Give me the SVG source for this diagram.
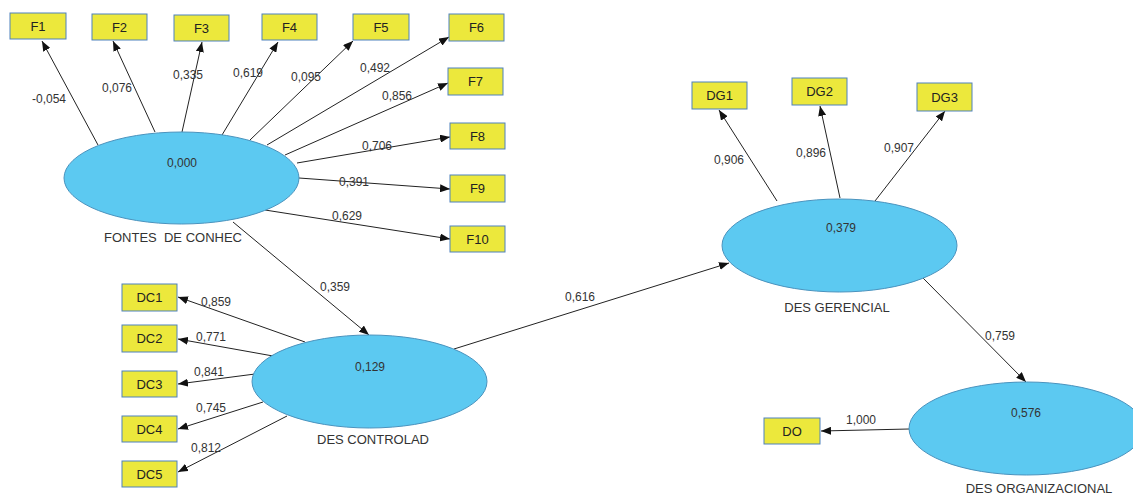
<svg xmlns="http://www.w3.org/2000/svg" width="1133" height="494" viewBox="0 0 1133 494">
<style>
.box{fill:#ECE83C;stroke:#4F81BD;stroke-width:1}
.lv{fill:#5CC9F1;stroke:#4A93BE;stroke-width:1}
.bt{font-family:"Liberation Sans",Arial,sans-serif;font-size:13px;fill:#222;text-anchor:middle;dominant-baseline:central}
.nt{font-family:"Liberation Sans",Arial,sans-serif;font-size:12px;fill:#333;text-anchor:middle;dominant-baseline:central}
.lt{font-family:"Liberation Sans",Arial,sans-serif;font-size:13px;fill:#333;text-anchor:middle;dominant-baseline:central}
.c{stroke:#222;stroke-width:1;fill:none;marker-end:url(#ah)}
</style>
<defs>
<marker id="ah" markerUnits="userSpaceOnUse" markerWidth="10" markerHeight="8" refX="10" refY="4" orient="auto">
<path d="M0,0 L10,4 L0,8 z" fill="#111"/>
</marker>
</defs>
<rect width="1133" height="494" fill="#fff"/>
<g id="connectors">
<line class="c" x1="98" y1="145" x2="42" y2="41"/>
<line class="c" x1="155" y1="132" x2="113" y2="41"/>
<line class="c" x1="182" y1="132" x2="202" y2="42"/>
<line class="c" x1="222" y1="135" x2="278" y2="42"/>
<line class="c" x1="250" y1="140" x2="353" y2="41"/>
<line class="c" x1="267" y1="145" x2="449" y2="37"/>
<line class="c" x1="285" y1="155" x2="448" y2="83"/>
<line class="c" x1="297" y1="163" x2="450" y2="137"/>
<line class="c" x1="299" y1="178" x2="450" y2="189"/>
<line class="c" x1="265" y1="210" x2="450" y2="239"/>
<line class="c" x1="233" y1="222" x2="369" y2="335"/>
<line class="c" x1="305" y1="342" x2="178" y2="297"/>
<line class="c" x1="273" y1="356" x2="178" y2="339"/>
<line class="c" x1="255" y1="374" x2="178" y2="384"/>
<line class="c" x1="263" y1="402" x2="178" y2="429"/>
<line class="c" x1="287" y1="416" x2="178" y2="472"/>
<line class="c" x1="454" y1="349" x2="729" y2="263"/>
<line class="c" x1="777" y1="201" x2="719" y2="110"/>
<line class="c" x1="840" y1="198" x2="820" y2="106"/>
<line class="c" x1="875" y1="201" x2="945" y2="111"/>
<line class="c" x1="923" y1="278" x2="1026" y2="382"/>
<line class="c" x1="909" y1="429" x2="821" y2="431"/>
</g>
<g id="labels" class="nt">
<text class="nt" x="49" y="99">-0,054</text>
<text class="nt" x="117" y="88">0,076</text>
<text class="nt" x="188" y="75">0,335</text>
<text class="nt" x="248" y="73">0,619</text>
<text class="nt" x="306" y="77">0,095</text>
<text class="nt" x="375" y="68">0,492</text>
<text class="nt" x="397" y="96">0,856</text>
<text class="nt" x="377" y="146">0,706</text>
<text class="nt" x="354" y="182">0,391</text>
<text class="nt" x="347" y="216">0,629</text>
<text class="nt" x="335" y="287">0,359</text>
<text class="nt" x="216" y="302">0,859</text>
<text class="nt" x="211" y="337">0,771</text>
<text class="nt" x="209" y="372">0,841</text>
<text class="nt" x="211" y="408">0,745</text>
<text class="nt" x="206" y="448">0,812</text>
<text class="nt" x="580" y="297">0,616</text>
<text class="nt" x="729" y="160">0,906</text>
<text class="nt" x="811" y="153">0,896</text>
<text class="nt" x="899" y="148">0,907</text>
<text class="nt" x="1000" y="336">0,759</text>
<text class="nt" x="861" y="420">1,000</text>
</g>
<g id="FONTES">
<ellipse class="lv" cx="181.5" cy="178" rx="117.5" ry="46"/>
<text class="nt" x="182" y="163">0,000</text>
<text class="lt" x="173" y="237" xml:space="preserve">FONTES  DE CONHEC</text>
</g>
<g id="DESCONTROLAD">
<ellipse class="lv" cx="369.5" cy="381.5" rx="117.5" ry="46.5"/>
<text class="nt" x="370" y="367">0,129</text>
<text class="lt" x="373" y="439">DES CONTROLAD</text>
</g>
<g id="DESGERENCIAL">
<ellipse class="lv" cx="839.5" cy="245.5" rx="117.5" ry="46.5"/>
<text class="nt" x="841" y="228">0,379</text>
<text class="lt" x="837" y="307">DES GERENCIAL</text>
</g>
<g id="DESORGANIZACIONAL">
<ellipse class="lv" cx="1026.5" cy="428.5" rx="117.5" ry="46.5"/>
<text class="nt" x="1026" y="413">0,576</text>
<text class="lt" x="1039" y="488">DES ORGANIZACIONAL</text>
</g>
<g id="F1"><rect class="box" x="10" y="13" width="56" height="26"/><text class="bt" x="38" y="26">F1</text></g>
<g id="F2"><rect class="box" x="92" y="14" width="55" height="26"/><text class="bt" x="119.5" y="27">F2</text></g>
<g id="F3"><rect class="box" x="174" y="15" width="55" height="26"/><text class="bt" x="201.5" y="28">F3</text></g>
<g id="F4"><rect class="box" x="262" y="14" width="55" height="26"/><text class="bt" x="289.5" y="27">F4</text></g>
<g id="F5"><rect class="box" x="353" y="14" width="56" height="26"/><text class="bt" x="381" y="27">F5</text></g>
<g id="F6"><rect class="box" x="449" y="14" width="55" height="27"/><text class="bt" x="476.5" y="27.5">F6</text></g>
<g id="F7"><rect class="box" x="448" y="68" width="55" height="27"/><text class="bt" x="475.5" y="81.5">F7</text></g>
<g id="F8"><rect class="box" x="450" y="123" width="55" height="26"/><text class="bt" x="477.5" y="136">F8</text></g>
<g id="F9"><rect class="box" x="450" y="175" width="55" height="27"/><text class="bt" x="477.5" y="188.5">F9</text></g>
<g id="F10"><rect class="box" x="450" y="226" width="55" height="26"/><text class="bt" x="477.5" y="239">F10</text></g>
<g id="DC1"><rect class="box" x="122" y="284" width="55" height="27"/><text class="bt" x="149.5" y="297.5">DC1</text></g>
<g id="DC2"><rect class="box" x="122" y="325" width="55" height="27"/><text class="bt" x="149.5" y="338.5">DC2</text></g>
<g id="DC3"><rect class="box" x="122" y="371" width="55" height="26"/><text class="bt" x="149.5" y="384">DC3</text></g>
<g id="DC4"><rect class="box" x="122" y="416" width="55" height="26"/><text class="bt" x="149.5" y="429">DC4</text></g>
<g id="DC5"><rect class="box" x="122" y="461" width="55" height="26"/><text class="bt" x="149.5" y="474">DC5</text></g>
<g id="DG1"><rect class="box" x="692" y="82" width="55" height="27"/><text class="bt" x="719.5" y="95.5">DG1</text></g>
<g id="DG2"><rect class="box" x="792" y="78" width="55" height="27"/><text class="bt" x="819.5" y="91.5">DG2</text></g>
<g id="DG3"><rect class="box" x="917" y="83" width="55" height="28"/><text class="bt" x="944.5" y="97">DG3</text></g>
<g id="DO"><rect class="box" x="764" y="418" width="56" height="26"/><text class="bt" x="792" y="431">DO</text></g>
</svg>
